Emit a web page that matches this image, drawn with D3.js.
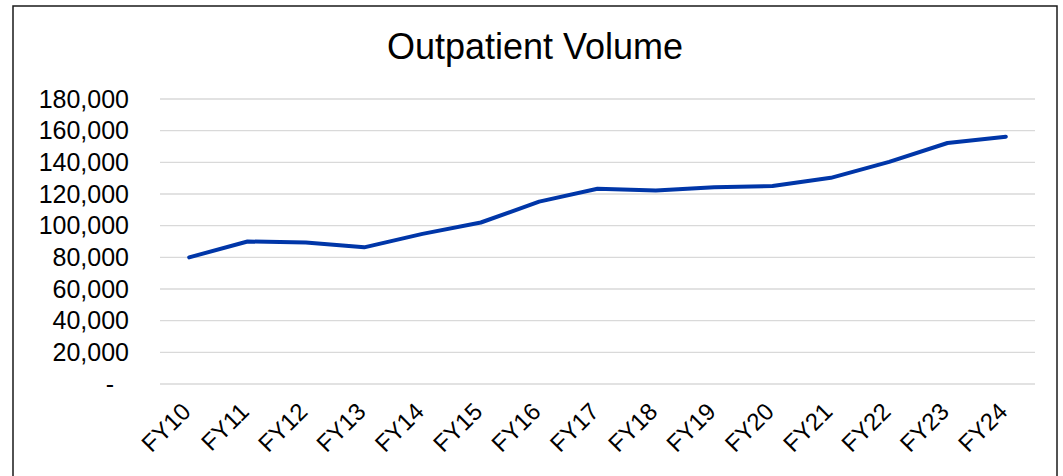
<!DOCTYPE html>
<html>
<head>
<meta charset="utf-8">
<script src="https://cdn.jsdelivr.net/npm/d3@7"></script>
<style>
	body { margin: 0; background: #fff; }
	text { font-family: 'Liberation Sans', Arial, sans-serif; fill: #000; }
</style>
</head>
<body>
<div id="chart"></div>
<script>
var years = ['FY10', 'FY11', 'FY12', 'FY13', 'FY14', 'FY15', 'FY16', 'FY17',
	'FY18', 'FY19', 'FY20', 'FY21', 'FY22', 'FY23', 'FY24'];
var volume = [80000, 90000, 89300, 86300, 94800, 102000, 115200, 123300,
	122200, 124200, 125100, 130200, 140300, 152200, 156200];
var yTicks = [0, 20000, 40000, 60000, 80000, 100000, 120000, 140000, 160000, 180000];
var yTickLabels = ['-', '20,000', '40,000', '60,000', '80,000', '100,000',
	'120,000', '140,000', '160,000', '180,000'];

var width = 1063;
var height = 476;
var plot = {left: 160, right: 1035, top: 99, bottom: 384};

var svg = d3.select('#chart')
	.append('svg')
	.attr('width', width)
	.attr('height', height);

// chart frame
svg.append('rect')
	.attr('x', 13)
	.attr('y', 6)
	.attr('width', 1044)
	.attr('height', 480)
	.style('fill', '#fff')
	.style('stroke', '#1a1a1a')
	.style('stroke-width', 1.5);

svg.append('text')
	.text('Outpatient Volume')
	.attr('x', 535)
	.attr('y', 59)
	.attr('text-anchor', 'middle')
	.style('font-size', '36px');

var x = d3.scaleBand()
	.domain(years)
	.range([plot.left, plot.right]);

var y = d3.scaleLinear()
	.domain([0, 180000])
	.range([plot.bottom, plot.top]);

// gridlines
svg.append('g')
	.selectAll('line')
	.data(yTicks)
	.enter()
	.append('line')
	.attr('x1', plot.left)
	.attr('x2', plot.right)
	.attr('y1', function (d) { return y(d); })
	.attr('y2', function (d) { return y(d); })
	.style('stroke', '#d9d9d9')
	.style('stroke-width', 1.3);

// y labels
svg.append('g')
	.selectAll('text')
	.data(yTicks)
	.enter()
	.append('text')
	.text(function (d, i) { return yTickLabels[i]; })
	.attr('x', function (d) { return d === 0 ? 114 : 129; })
	.attr('y', function (d) { return y(d); })
	.attr('dy', '0.35em')
	.attr('text-anchor', 'end')
	.style('font-size', '25px');

// x labels
svg.append('g')
	.selectAll('text')
	.data(years)
	.enter()
	.append('text')
	.text(function (d) { return d; })
	.attr('text-anchor', 'end')
	.attr('transform', function (d) {
		return 'translate(' + (x(d) + x.bandwidth() / 2 + 3) + ',413) rotate(-45)';
	})
	.style('font-size', '24px');

var line = d3.line()
	.x(function (d, i) { return x(years[i]) + x.bandwidth() / 2; })
	.y(function (d) { return y(d); });

svg.append('path')
	.datum(volume)
	.attr('d', line)
	.style('fill', 'none')
	.style('stroke', '#0036A8')
	.style('stroke-width', 4)
	.style('stroke-linejoin', 'round')
	.style('stroke-linecap', 'round');
</script>
</body>
</html>
